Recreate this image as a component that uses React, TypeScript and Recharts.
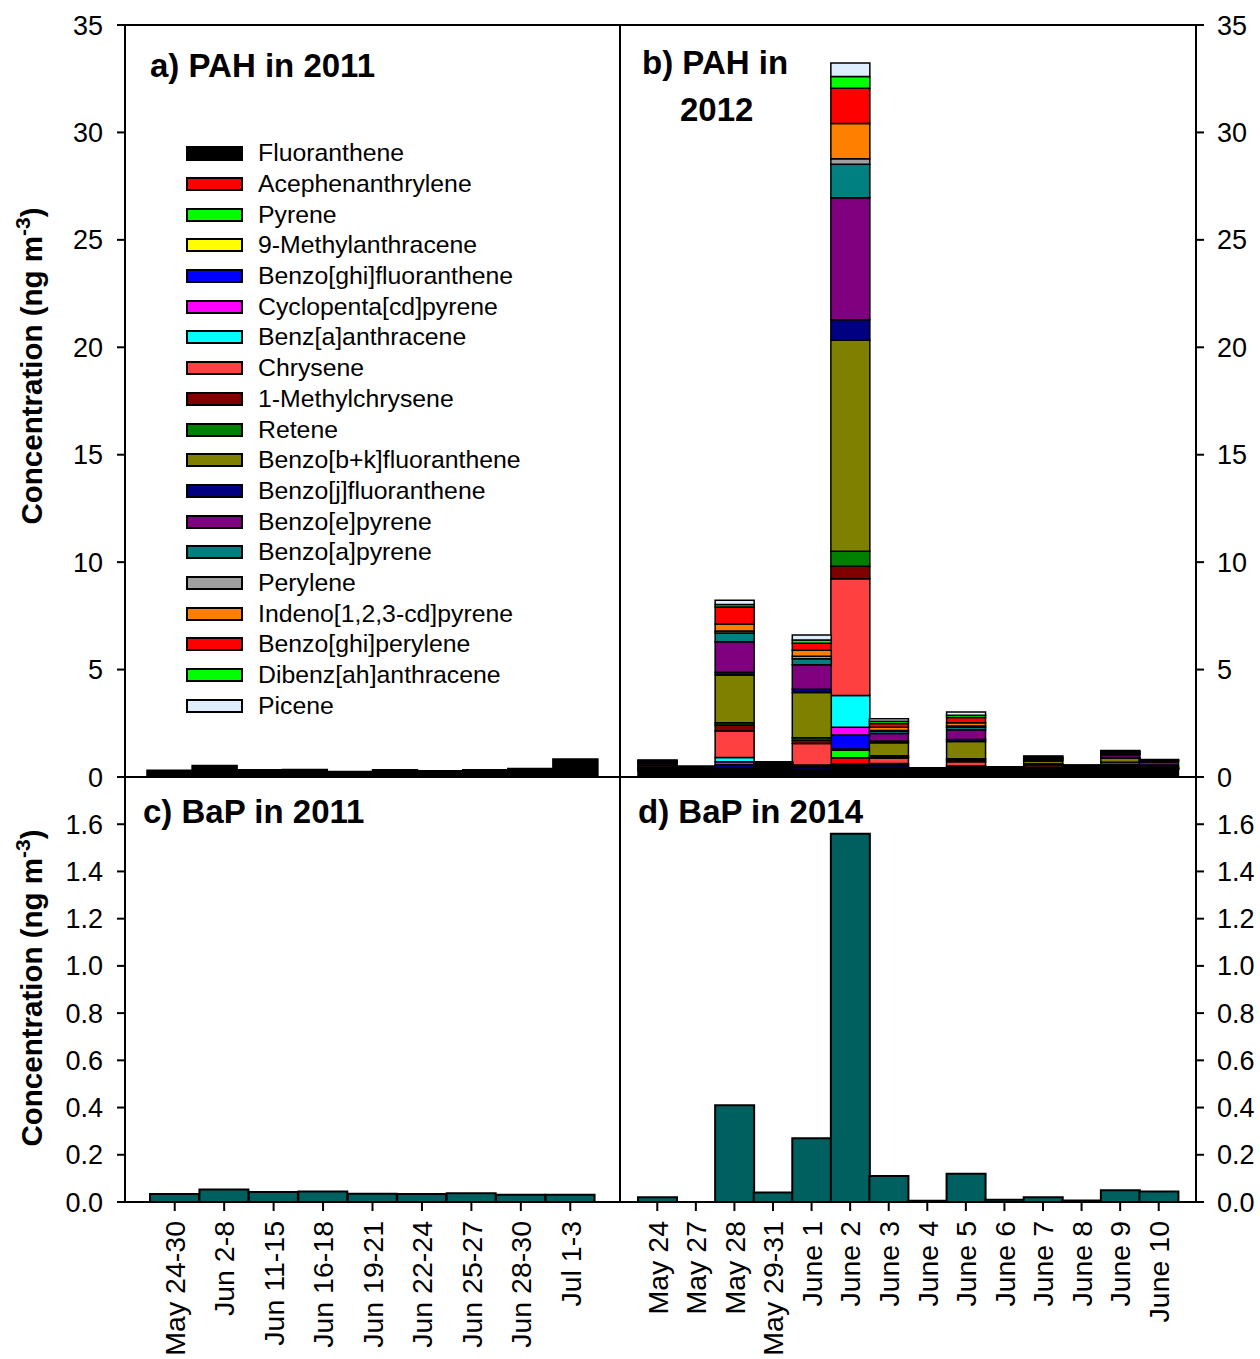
import React from "react";
import { Bar, BarChart, XAxis, YAxis } from "recharts";

const FONT = "'Liberation Sans', Arial, Helvetica, sans-serif";

// a) PAH in 2011 (ten samples, drawn black)
const samples2011 = ["1", "2", "3", "4", "5", "6", "7", "8", "9", "10"];
const pah2011 = [0.31, 0.53, 0.34, 0.35, 0.26, 0.34, 0.29, 0.34, 0.39, 0.84];

// c) BaP in 2011
const dates2011 = ["May 24-30", "Jun 2-8", "Jun 11-15", "Jun 16-18", "Jun 19-21", "Jun 22-24", "Jun 25-27", "Jun 28-30", "Jul 1-3"];
const bap2011 = [0.034, 0.053, 0.042, 0.044, 0.035, 0.034, 0.037, 0.031, 0.031];

// b) PAH in 2012
const dates2012 = ["May 24", "May 27", "May 28", "May 29-31", "June 1", "June 2", "June 3", "June 4", "June 5", "June 6", "June 7", "June 8", "June 9", "June 10"];
const fluoranthene = [0.3, 0.51, 0.33, 0.63, 0.3, 0.6, 0.4, 0.42, 0.3, 0.46, 0.35, 0.54, 0.4, 0.35];
const acephenanthrylene = [0.02, 0, 0.05, 0, 0.03, 0.3, 0.03, 0, 0.03, 0, 0.02, 0, 0.02, 0.01];
const pyrene = [0.02, 0, 0.05, 0, 0.03, 0.35, 0.03, 0, 0.03, 0, 0.02, 0, 0.02, 0.01];
const methylanthracene = [0.01, 0, 0.02, 0, 0.01, 0.05, 0.01, 0, 0.01, 0, 0.01, 0, 0.01, 0.01];
const benzoGhiFluoranthene = [0.02, 0, 0.12, 0, 0.08, 0.65, 0.08, 0, 0.06, 0, 0.02, 0, 0.02, 0.01];
const cyclopentaPyrene = [0.01, 0, 0.14, 0, 0.05, 0.37, 0.03, 0, 0.03, 0, 0.02, 0, 0.02, 0.01];
const benzAnthracene = [0.01, 0, 0.2, 0, 0.06, 1.47, 0.05, 0, 0.05, 0, 0.02, 0, 0.02, 0.01];
const chrysene = [0.02, 0, 1.23, 0, 1.0, 5.44, 0.25, 0, 0.2, 0, 0.1, 0, 0.04, 0.02];
const methylchrysene = [0.01, 0, 0.28, 0, 0.15, 0.58, 0.05, 0, 0.08, 0, 0.03, 0, 0.02, 0.02];
const retene = [0.02, 0, 0.1, 0, 0.12, 0.7, 0.06, 0, 0.06, 0, 0.03, 0, 0.12, 0.03];
const benzoBkFluoranthene = [0.08, 0, 2.23, 0.02, 2.1, 9.82, 0.6, 0, 0.8, 0.01, 0.12, 0.01, 0.18, 0.06];
const benzoJFluoranthene = [0.02, 0, 0.12, 0, 0.15, 0.95, 0.08, 0, 0.1, 0, 0.03, 0, 0.04, 0.02];
const benzoEPyrene = [0.08, 0, 1.42, 0.02, 1.15, 5.68, 0.35, 0, 0.45, 0, 0.05, 0, 0.12, 0.14];
const benzoAPyrene = [0.02, 0, 0.41, 0.04, 0.27, 1.56, 0.11, 0.01, 0.12, 0.01, 0.02, 0.01, 0.05, 0.04];
const perylene = [0.02, 0, 0.09, 0, 0.12, 0.26, 0.04, 0, 0.05, 0, 0.02, 0, 0.02, 0.01];
const indenoPyrene = [0.04, 0, 0.33, 0, 0.28, 1.63, 0.15, 0, 0.15, 0, 0.03, 0, 0.03, 0.02];
const benzoGhiPerylene = [0.05, 0, 0.79, 0, 0.33, 1.65, 0.17, 0, 0.25, 0, 0.04, 0, 0.04, 0.02];
const dibenzAnthracene = [0.02, 0, 0.12, 0, 0.15, 0.54, 0.1, 0, 0.1, 0, 0.02, 0, 0.02, 0.01];
const picene = [0.02, 0, 0.2, 0, 0.23, 0.63, 0.12, 0, 0.15, 0, 0.03, 0, 0.04, 0.01];

// d) BaP in 2014
const dates2014 = ["May 24", "May 27", "May 28", "May 29-31", "June 1", "June 2", "June 3", "June 4", "June 5", "June 6", "June 7", "June 8", "June 9", "June 10"];
const bap2014 = [0.02, 0, 0.41, 0.04, 0.27, 1.56, 0.11, 0.005, 0.12, 0.01, 0.02, 0.006, 0.05, 0.045];

const pahTicks = [0, 5, 10, 15, 20, 25, 30, 35];
const bapTicks = [0, 0.2, 0.4, 0.6, 0.8, 1.0, 1.2, 1.4, 1.6];

const compounds = [
  { key: "fla", name: "Fluoranthene", color: "#000000", values: fluoranthene },
  { key: "ace", name: "Acephenanthrylene", color: "#ff0000", values: acephenanthrylene },
  { key: "pyr", name: "Pyrene", color: "#00ff00", values: pyrene },
  { key: "man", name: "9-Methylanthracene", color: "#ffff00", values: methylanthracene },
  { key: "bghif", name: "Benzo[ghi]fluoranthene", color: "#0000ff", values: benzoGhiFluoranthene },
  { key: "cpp", name: "Cyclopenta[cd]pyrene", color: "#ff00ff", values: cyclopentaPyrene },
  { key: "baa", name: "Benz[a]anthracene", color: "#00ffff", values: benzAnthracene },
  { key: "chr", name: "Chrysene", color: "#ff4040", values: chrysene },
  { key: "mch", name: "1-Methylchrysene", color: "#800000", values: methylchrysene },
  { key: "ret", name: "Retene", color: "#008000", values: retene },
  { key: "bbk", name: "Benzo[b+k]fluoranthene", color: "#808000", values: benzoBkFluoranthene },
  { key: "bjf", name: "Benzo[j]fluoranthene", color: "#000080", values: benzoJFluoranthene },
  { key: "bep", name: "Benzo[e]pyrene", color: "#800080", values: benzoEPyrene },
  { key: "bap", name: "Benzo[a]pyrene", color: "#008080", values: benzoAPyrene },
  { key: "per", name: "Perylene", color: "#a0a0a0", values: perylene },
  { key: "ind", name: "Indeno[1,2,3-cd]pyrene", color: "#ff8000", values: indenoPyrene },
  { key: "bghip", name: "Benzo[ghi]perylene", color: "#ff0000", values: benzoGhiPerylene },
  { key: "dba", name: "Dibenz[ah]anthracene", color: "#00ff00", values: dibenzAnthracene },
  { key: "pic", name: "Picene", color: "#deeeff", values: picene },
];

const dataA = samples2011.map((s, i) => ({ sample: s, total: pah2011[i] }));
const dataB = dates2012.map((d, i) => {
  const row: Record<string, any> = { date: d };
  compounds.forEach((c) => (row[c.key] = c.values[i]));
  return row;
});
const dataC = dates2011.map((d, i) => ({ date: d, bap: bap2011[i] }));
const dataD = dates2014.map((d, i) => ({ date: d, bap: bap2014[i] }));

const axisLine = { stroke: "#000", strokeWidth: 2 };
const tickStyle = { fill: "#000", fontSize: 27, fontFamily: FONT };

function RotatedTick(props: any) {
  const { x, y, payload } = props;
  return (
    <text
      transform={`translate(${x},${y}) rotate(-90)`}
      textAnchor="end"
      dy="0.36em"
      fontSize={28.5}
      fontFamily={FONT}
      fill="#000"
    >
      {payload.value}
    </text>
  );
}

function Line({ x, y, w, h }: { x: number; y: number; w: number; h: number }) {
  return <div style={{ position: "absolute", left: x, top: y, width: w, height: h, background: "#000" }} />;
}

export default function App() {
  const fmt1 = (v: number) => v.toFixed(1);
  return (
    <div style={{ position: "absolute", left: 0, top: 0, width: 1260, height: 1359, background: "#fff", fontFamily: FONT }}>
      {/* a) */}
      <div style={{ position: "absolute", left: 0, top: 0 }}>
        <BarChart width={620} height={800} data={dataA} margin={{ top: 25, right: 0, bottom: 23, left: 0 }} barCategoryGap={0} barGap={0}>
          <XAxis dataKey="sample" hide padding={{ left: 22, right: 22 }} />
          <YAxis width={125} domain={[0, 35]} ticks={pahTicks} interval={0} tick={tickStyle} tickLine={axisLine} axisLine={axisLine} tickSize={8} tickMargin={14} />
          <Bar dataKey="total" name="PAH 2011" fill="#000" stroke="#000" strokeWidth={1.5} isAnimationActive={false} />
        </BarChart>
      </div>
      {/* b) */}
      <div style={{ position: "absolute", left: 620, top: 0 }}>
        <BarChart width={640} height={800} data={dataB} margin={{ top: 25, right: 0, bottom: 23, left: 0 }} barCategoryGap={0} barGap={0}>
          <XAxis dataKey="date" hide padding={{ left: 18, right: 18 }} />
          <YAxis orientation="right" width={64} domain={[0, 35]} ticks={pahTicks} interval={0} tick={{ ...tickStyle, textAnchor: "start" }} tickLine={axisLine} axisLine={axisLine} tickSize={8} tickMargin={13} />
          {compounds.map((c) => (
            <Bar key={c.key} dataKey={c.key} name={c.name} stackId="pah" fill={c.color} stroke="#000" strokeWidth={1.5} isAnimationActive={false} />
          ))}
        </BarChart>
      </div>
      {/* c) */}
      <div style={{ position: "absolute", left: 0, top: 777 }}>
        <BarChart width={620} height={582} data={dataC} margin={{ top: 0, right: 0, bottom: 0, left: 0 }} barCategoryGap={0} barGap={0}>
          <XAxis dataKey="date" height={157} padding={{ left: 25, right: 25 }} interval={0} tick={<RotatedTick />} tickLine={axisLine} axisLine={axisLine} tickSize={9} tickMargin={10} />
          <YAxis width={125} domain={[0, 1.8]} ticks={bapTicks} interval={0} tickFormatter={fmt1} tick={tickStyle} tickLine={axisLine} axisLine={axisLine} tickSize={8} tickMargin={14} />
          <Bar dataKey="bap" name="BaP 2011" fill="#006060" stroke="#000" strokeWidth={2} isAnimationActive={false} />
        </BarChart>
      </div>
      {/* d) */}
      <div style={{ position: "absolute", left: 620, top: 777 }}>
        <BarChart width={640} height={582} data={dataD} margin={{ top: 0, right: 0, bottom: 0, left: 0 }} barCategoryGap={0} barGap={0}>
          <XAxis dataKey="date" height={157} padding={{ left: 18, right: 18 }} interval={0} tick={<RotatedTick />} tickLine={axisLine} axisLine={axisLine} tickSize={9} tickMargin={10} />
          <YAxis orientation="right" width={64} domain={[0, 1.8]} ticks={bapTicks} interval={0} tickFormatter={fmt1} tick={{ ...tickStyle, textAnchor: "start" }} tickLine={axisLine} axisLine={axisLine} tickSize={8} tickMargin={13} />
          <Bar dataKey="bap" name="BaP 2014" fill="#006060" stroke="#000" strokeWidth={2} isAnimationActive={false} />
        </BarChart>
      </div>

      {/* panel frame */}
      <Line x={124} y={24} w={1073} h={2} />
      <Line x={619} y={24} w={2} h={1179} />
      <Line x={124} y={776} w={1073} h={2} />

      {/* legend */}
      <div style={{ position: "absolute", left: 186, top: 138 }}>
        {compounds.map((c) => (
          <div key={c.key} style={{ display: "flex", alignItems: "center", height: 30.7 }}>
            <div style={{ width: 57, height: c.key === "fla" ? 15 : 14, boxSizing: "border-box", border: "2px solid #000", background: c.color }} />
            <span style={{ marginLeft: 15, fontSize: 24.8, color: "#000", whiteSpace: "nowrap" }}>{c.name}</span>
          </div>
        ))}
      </div>

      {/* titles and axis labels */}
      <svg width={1260} height={1359} style={{ position: "absolute", left: 0, top: 0, pointerEvents: "none" }} fontFamily={FONT}>
        <g fontWeight="bold" fontSize={33} fill="#000">
          <text x={150} y={77}>a) PAH in 2011</text>
          <text x={642} y={74}>b) PAH in</text>
          <text x={680} y={121}>2012</text>
          <text x={143} y={823}>c) BaP in 2011</text>
          <text x={638} y={823}>d) BaP in 2014</text>
        </g>
        {[366, 988].map((cy) => (
          <text key={cy} transform={`translate(31,${cy}) rotate(-90)`} textAnchor="middle" dy="0.36em" fontWeight="bold" fontSize={29.5} fill="#000">
            Concentration (ng m<tspan dy={-12} fontSize={21}>-3</tspan><tspan dy={12}>)</tspan>
          </text>
        ))}
      </svg>
    </div>
  );
}
